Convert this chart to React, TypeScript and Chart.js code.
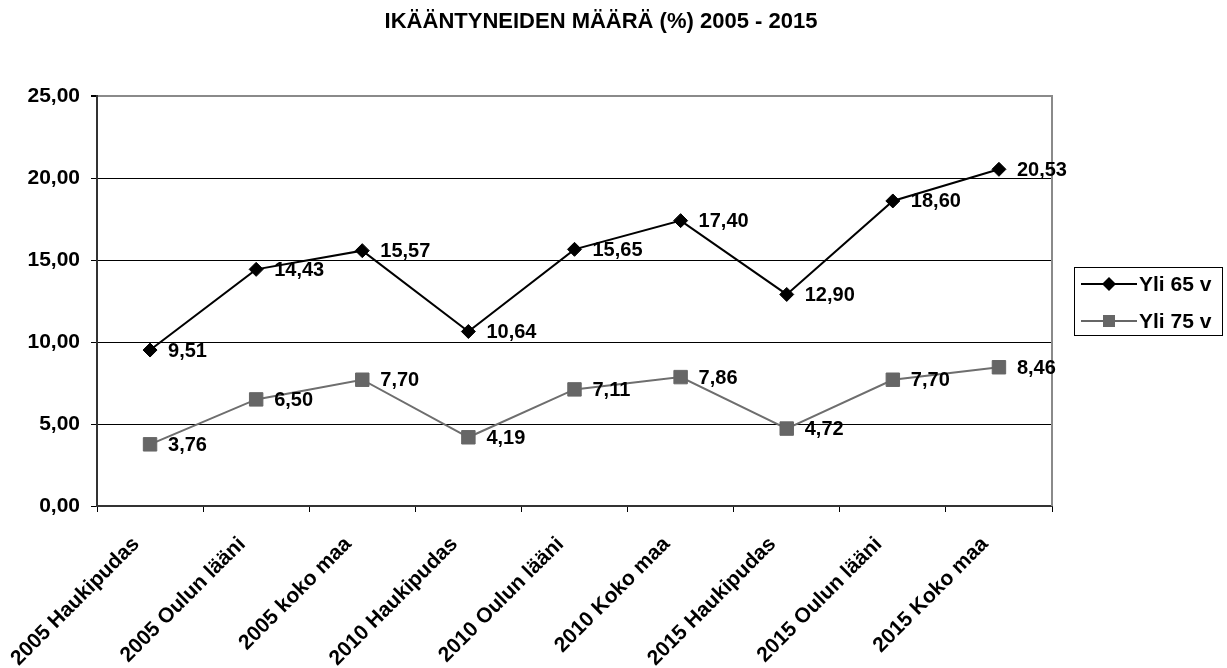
import React, { useEffect, useRef } from 'react';
import { Chart, registerables } from 'chart.js';

Chart.register(...registerables);

const chartTitle = 'IKÄÄNTYNEIDEN MÄÄRÄ (%) 2005 - 2015';
const categories = [
  '2005 Haukipudas',
  '2005 Oulun lääni',
  '2005 koko maa',
  '2010 Haukipudas',
  '2010 Oulun lääni',
  '2010 Koko maa',
  '2015 Haukipudas',
  '2015 Oulun lääni',
  '2015 Koko maa',
];
const seriesNames = ['Yli 65 v', 'Yli 75 v'];
const yli65 = [9.51, 14.43, 15.57, 10.64, 15.65, 17.4, 12.9, 18.6, 20.53];
const yli75 = [3.76, 6.5, 7.7, 4.19, 7.11, 7.86, 4.72, 7.7, 8.46];
const yMin = 0;
const yMax = 25;
const yStep = 5;

const FONT = '"Liberation Sans", Arial, Helvetica, sans-serif';
const fmt = (v: number) => v.toFixed(2).replace('.', ',');

const decorPlugin = {
  id: 'decor',
  beforeDatasetsDraw(chart: any) {
    const ctx = chart.ctx;
    const a = chart.chartArea;
    ctx.save();
    ctx.strokeStyle = '#8a8a8a';
    ctx.lineWidth = 2;
    ctx.beginPath();
    ctx.moveTo(a.right, a.top - 1);
    ctx.lineTo(a.right, a.bottom);
    ctx.stroke();
    ctx.restore();
  },
  afterDatasetsDraw(chart: any) {
    const ctx = chart.ctx;
    ctx.save();
    // data labels
    ctx.font = `bold 20px ${FONT}`;
    ctx.fillStyle = '#000';
    ctx.textBaseline = 'middle';
    ctx.textAlign = 'left';
    chart.data.datasets.forEach((ds: any, i: number) => {
      const meta = chart.getDatasetMeta(i);
      meta.data.forEach((pt: any, j: number) => {
        ctx.fillText(fmt(ds.data[j]), pt.x + 18, pt.y + 1);
      });
    });
    // title
    ctx.font = `bold 22px ${FONT}`;
    ctx.textAlign = 'center';
    ctx.fillText(chartTitle, 601, 22);
    // legend
    const bx = 1074.5, by = 267.5, bw = 148, bh = 68;
    ctx.strokeStyle = '#000';
    ctx.lineWidth = 1;
    ctx.strokeRect(bx, by, bw, bh);
    const rows = [
      { y: 284, color: '#000', shape: 'diamond' },
      { y: 321, color: '#666', shape: 'square' },
    ];
    rows.forEach((r, i) => {
      ctx.strokeStyle = r.color;
      ctx.lineWidth = 2;
      ctx.beginPath();
      ctx.moveTo(1081, r.y);
      ctx.lineTo(1137, r.y);
      ctx.stroke();
      ctx.fillStyle = r.color;
      ctx.beginPath();
      if (r.shape === 'diamond') {
        ctx.moveTo(1109 - 7, r.y);
        ctx.lineTo(1109, r.y - 7);
        ctx.lineTo(1109 + 7, r.y);
        ctx.lineTo(1109, r.y + 7);
        ctx.closePath();
      } else {
        ctx.rect(1103, r.y - 6, 12, 12);
      }
      ctx.fill();
      ctx.fillStyle = '#000';
      ctx.font = `bold 21px ${FONT}`;
      ctx.textAlign = 'left';
      ctx.textBaseline = 'middle';
      ctx.fillText(seriesNames[i], 1139, r.y + 1);
    });
    ctx.restore();
  },
};

export default function App() {
  const ref = useRef<HTMLCanvasElement>(null);
  useEffect(() => {
    if (!ref.current) return;
    const chart = new Chart(ref.current, {
      type: 'line',
      data: {
        labels: categories,
        datasets: [
          {
            label: seriesNames[0],
            data: yli65,
            borderColor: '#000',
            backgroundColor: '#000',
            borderWidth: 2,
            pointStyle: 'rectRot',
            pointRadius: 7,
            pointBorderWidth: 1,
            pointBackgroundColor: '#000',
            pointBorderColor: '#000',
          },
          {
            label: seriesNames[1],
            data: yli75,
            borderColor: '#6e6e6e',
            backgroundColor: '#666',
            borderWidth: 2,
            pointStyle: 'rect',
            pointRadius: 9.5,
            pointBorderWidth: 1,
            pointBackgroundColor: '#666',
            pointBorderColor: '#666',
          },
        ],
      },
      options: {
        responsive: false,
        animation: false,
        layout: { padding: { top: 96, right: 175, left: 0, bottom: 0 } },
        plugins: {
          legend: { display: false },
          title: { display: false },
          tooltip: { enabled: false },
        },
        scales: {
          x: {
            type: 'category',
            offset: true,
            grid: {
              offset: true,
              drawOnChartArea: false,
              drawTicks: true,
              tickLength: 6,
              tickColor: '#000',
              lineWidth: 1,
            },
            border: { display: true, color: '#333', width: 2 },
            ticks: {
              autoSkip: false,
              minRotation: 45,
              maxRotation: 45,
              padding: 20,
              labelOffset: -14,
              color: '#000',
              font: { family: FONT, size: 21, weight: 'bold' },
            },
            afterFit: (s: any) => {
              s.height = 668 - 506;
            },
          },
          y: {
            min: yMin,
            max: yMax,
            ticks: {
              stepSize: yStep,
              padding: 11,
              color: '#000',
              font: { family: FONT, size: 21, weight: 'bold' },
              callback: (v: any) => fmt(Number(v)),
            },
            grid: {
              color: (c: any) => (c.tick && c.tick.value === yMax ? '#8a8a8a' : '#000'),
              lineWidth: (c: any) => (c.tick && c.tick.value === yMax ? 2 : 1),
              tickColor: '#000',
              tickLength: 6,
            },
            border: { display: true, color: '#333', width: 2 },
            afterFit: (s: any) => {
              s.width = 97;
            },
          },
        },
      },
      plugins: [decorPlugin],
    });
    return () => chart.destroy();
  }, []);
  return (
    <div style={{ position: 'fixed', left: 0, top: 0, width: 1227, height: 668, background: '#fff' }}>
      <canvas ref={ref} width={1227} height={668} style={{ display: 'block' }} />
    </div>
  );
}
